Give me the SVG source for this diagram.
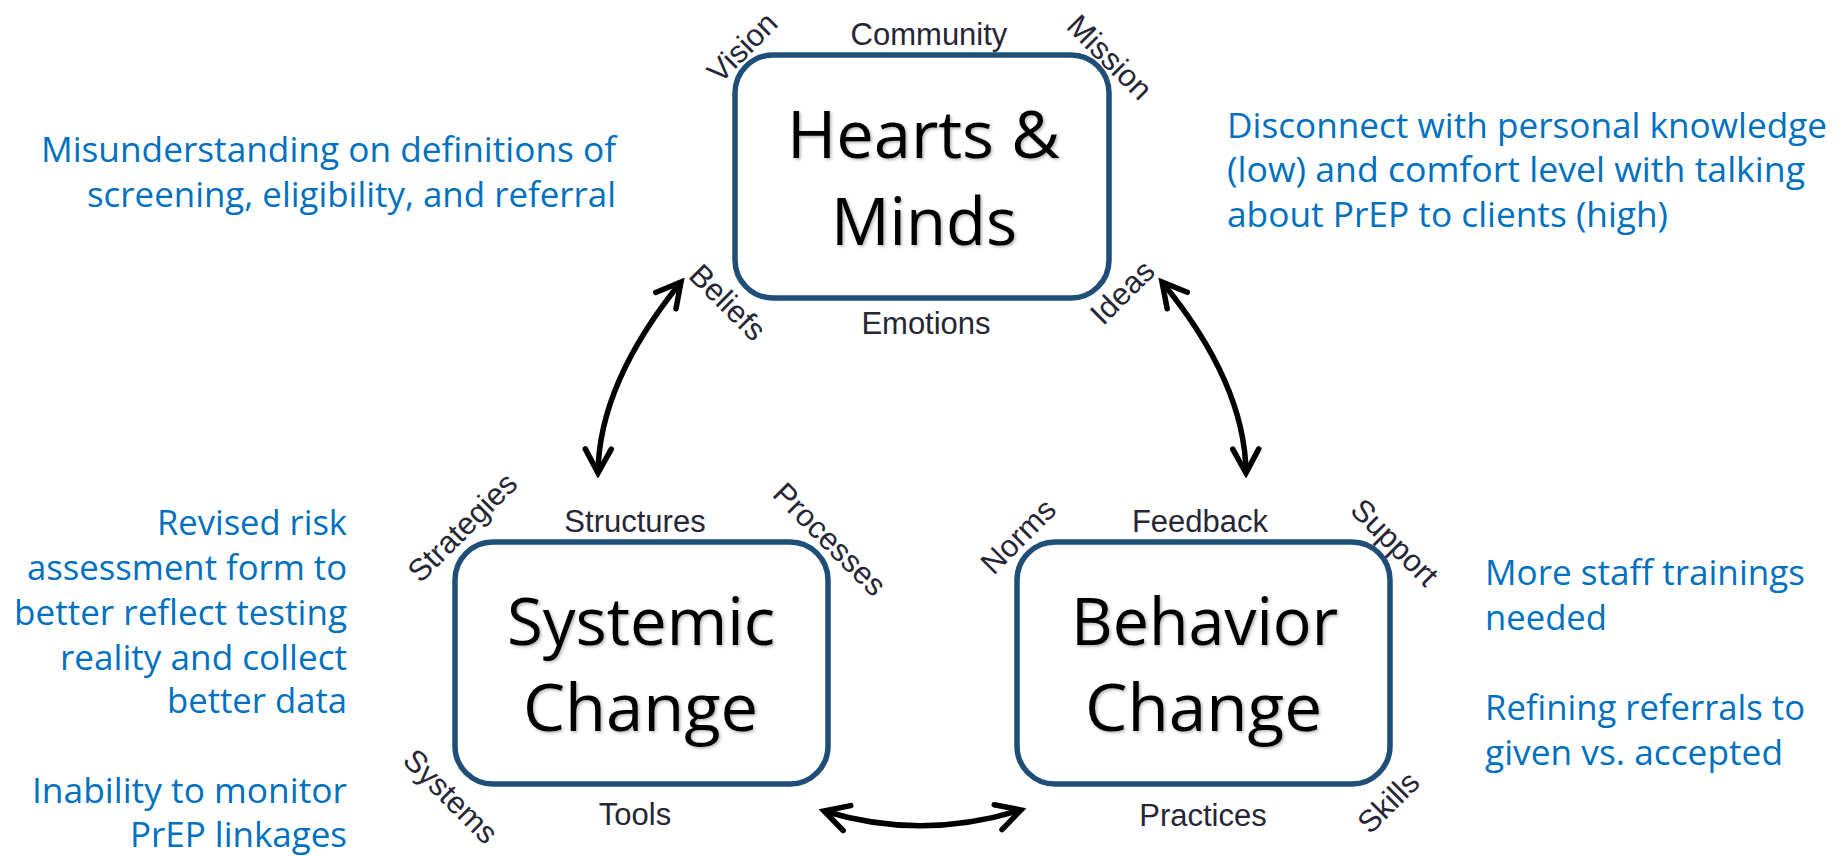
<svg xmlns="http://www.w3.org/2000/svg" width="1847" height="856" viewBox="0 0 1847 856">
<style>
.box{fill:#fff;stroke:#1F4E79;stroke-width:5.5}
.big{font-family:"Open Sans","Noto Sans",sans-serif;font-size:66px;fill:#000;filter:url(#sh)}
.lbl{font-family:"Liberation Sans",Arial,sans-serif;font-size:31px;fill:#262636;text-anchor:middle}
.note{font-family:"Open Sans","Noto Sans",sans-serif;font-size:35px;fill:#0070C0}
.conn{fill:none;stroke:#000;stroke-width:5.5;marker-start:url(#ah);marker-end:url(#ah)}
</style>
<defs>
<filter id="sh" x="-10%" y="-10%" width="120%" height="130%">
<feDropShadow dx="1.5" dy="1.5" stdDeviation="1.5" flood-color="#000" flood-opacity="0.3"/>
</filter>
<marker id="ah" markerUnits="userSpaceOnUse" viewBox="0 0 34 34" markerWidth="34" markerHeight="34" refX="29" refY="17" orient="auto-start-reverse">
<path d="M5,4 L29,17 L5,30" fill="none" stroke="#000" stroke-width="5.5" stroke-linejoin="miter" stroke-linecap="round"/>
</marker>
</defs>
<rect width="1847" height="856" fill="#fff"/>

<g id="connectors">
<path class="conn" d="M598,473 Q599,383 681,282"/>
<path class="conn" d="M1246,473 Q1245,383 1162,282"/>
<path class="conn" d="M824,811 Q922,841 1021,810"/>
</g>

<g id="hearts-minds">
<rect class="box" x="735" y="55" width="374" height="243" rx="38"/>
<text class="big" x="787" y="158" textLength="273" lengthAdjust="spacingAndGlyphs">Hearts &amp;</text>
<text class="big" x="831" y="245" textLength="186" lengthAdjust="spacingAndGlyphs">Minds</text>
<text class="lbl" x="929" y="45">Community</text>
<text class="lbl" x="926" y="334">Emotions</text>
<text class="lbl" transform="translate(742,47) rotate(-45)" y="11">Vision</text>
<text class="lbl" transform="translate(1110,57) rotate(45)" y="11">Mission</text>
<text class="lbl" transform="translate(728,302) rotate(45)" y="11">Beliefs</text>
<text class="lbl" transform="translate(1122,292) rotate(-45)" y="11">Ideas</text>
</g>

<g id="systemic-change">
<rect class="box" x="455" y="542" width="373" height="242" rx="38"/>
<text class="big" x="507" y="645" textLength="268" lengthAdjust="spacingAndGlyphs">Systemic</text>
<text class="big" x="523" y="731" textLength="235" lengthAdjust="spacingAndGlyphs">Change</text>
<text class="lbl" x="635" y="532">Structures</text>
<text class="lbl" x="635" y="825">Tools</text>
<text class="lbl" transform="translate(462,527) rotate(-45)" y="11">Strategies</text>
<text class="lbl" transform="translate(830,539) rotate(45)" y="11">Processes</text>
<text class="lbl" transform="translate(451,796) rotate(45)" y="11">Systems</text>
</g>

<g id="behavior-change">
<rect class="box" x="1017" y="542" width="373" height="242" rx="38"/>
<text class="big" x="1071" y="645" textLength="267" lengthAdjust="spacingAndGlyphs">Behavior</text>
<text class="big" x="1085" y="731" textLength="237" lengthAdjust="spacingAndGlyphs">Change</text>
<text class="lbl" x="1200" y="532">Feedback</text>
<text class="lbl" x="1203" y="826">Practices</text>
<text class="lbl" transform="translate(1018,536) rotate(-45)" y="11">Norms</text>
<text class="lbl" transform="translate(1395,542) rotate(45)" y="11">Support</text>
<text class="lbl" transform="translate(1388,802) rotate(-45)" y="11">Skills</text>
</g>

<g id="note-hearts-left">
<text class="note" x="41" y="162" textLength="575" lengthAdjust="spacingAndGlyphs">Misunderstanding on definitions of</text>
<text class="note" x="87" y="207" textLength="529" lengthAdjust="spacingAndGlyphs">screening, eligibility, and referral</text>
</g>

<g id="note-hearts-right">
<text class="note" x="1227" y="138" textLength="600" lengthAdjust="spacingAndGlyphs">Disconnect with personal knowledge</text>
<text class="note" x="1227" y="182" textLength="578" lengthAdjust="spacingAndGlyphs">(low) and comfort level with talking</text>
<text class="note" x="1227" y="227" textLength="441" lengthAdjust="spacingAndGlyphs">about PrEP to clients (high)</text>
</g>

<g id="note-systemic">
<text class="note" x="157" y="535" textLength="190" lengthAdjust="spacingAndGlyphs">Revised risk</text>
<text class="note" x="27" y="580" textLength="320" lengthAdjust="spacingAndGlyphs">assessment form to</text>
<text class="note" x="14" y="625" textLength="333" lengthAdjust="spacingAndGlyphs">better reflect testing</text>
<text class="note" x="60" y="670" textLength="287" lengthAdjust="spacingAndGlyphs">reality and collect</text>
<text class="note" x="167" y="713" textLength="180" lengthAdjust="spacingAndGlyphs">better data</text>
<text class="note" x="32" y="803" textLength="315" lengthAdjust="spacingAndGlyphs">Inability to monitor</text>
<text class="note" x="130" y="847" textLength="217" lengthAdjust="spacingAndGlyphs">PrEP linkages</text>
</g>

<g id="note-behavior">
<text class="note" x="1485" y="585" textLength="320" lengthAdjust="spacingAndGlyphs">More staff trainings</text>
<text class="note" x="1485" y="630" textLength="122" lengthAdjust="spacingAndGlyphs">needed</text>
<text class="note" x="1485" y="720" textLength="320" lengthAdjust="spacingAndGlyphs">Refining referrals to</text>
<text class="note" x="1485" y="765" textLength="298" lengthAdjust="spacingAndGlyphs">given vs. accepted</text>
</g>
</svg>
